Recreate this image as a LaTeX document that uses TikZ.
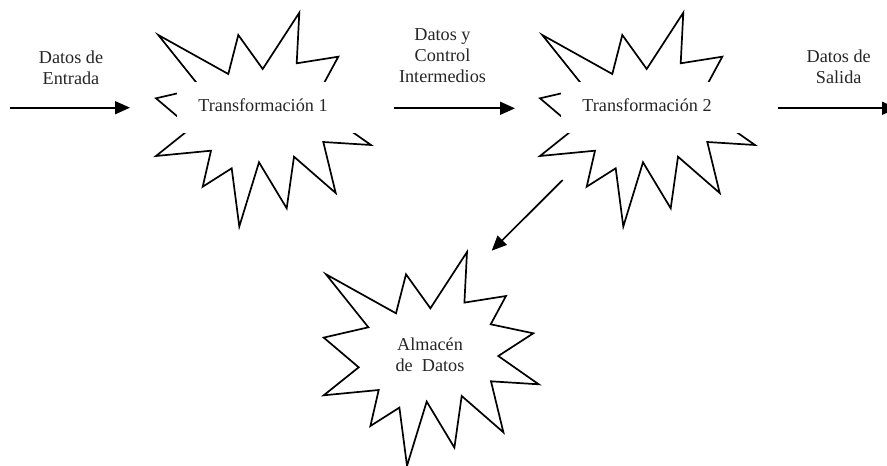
\documentclass[tikz,border=0pt]{standalone}
\usepackage{fontspec}
\setmainfont{Liberation Serif}
\usetikzlibrary{arrows.meta}
\newcommand\burstpath{%
  (158.3,35) -- (228.3,74) -- (238.3,35) -- (262.7,69) -- (299.3,12.7) --
  (296.7,63.3) -- (338.3,56.7) -- (323,85) -- (365.6,94) -- (330.6,116.7) --
  (371,145) -- (323.3,142) -- (335.7,193) -- (294,156.7) -- (286.7,208.3) --
  (259,162.3) -- (239.3,226.5) -- (231.7,168.3) -- (202.7,186.7) -- (211,150.7) --
  (156,156) -- (191,128) -- (156,98.3) -- (200.7,88) -- cycle}
\tikzset{
  burst/.style={draw=black, line width=1.7pt, line join=miter, fill=white},
  cover/.style={fill=white, draw=none},
  lbl/.style={font=\fontsize{18.2}{21}\selectfont, inner sep=0pt, align=center, anchor=north, text=black!85},
  arr/.style={-{Triangle[length=15pt,width=13pt]}, line width=1.7pt, draw=black},
}
\begin{document}
\begin{tikzpicture}[x=1pt,y=-1pt]
\path[use as bounding box, fill=white] (0,0) rectangle (887,466);
\clip (0,0) rectangle (887,466);

% starburst 1
\draw[burst] \burstpath;
\fill[cover] (177,82) rectangle (370,133.3);
\node[lbl, anchor=base] (t1) at (263,111) {Transformación 1};

% starburst 2
\begin{scope}[shift={(384,0)}]
\draw[burst] \burstpath;
\fill[cover] (177,82) rectangle (370,133.3);
\end{scope}
\node[lbl, anchor=base] (t2) at (647,111) {Transformación 2};

% starburst 3
\begin{scope}[shift={(167.7,239.3)}]
\draw[burst] \burstpath;
\end{scope}
\node[lbl] (t3) at (430,335.3) {\strut Almacén\\\strut de\ \ Datos};

% flow labels
\node[lbl] (l1) at (71,48.6) {\strut Datos de\\\strut Entrada};
\node[lbl] (l2) at (442.5,25.3) {\strut Datos y\\\strut Control\\\strut Intermedios};
\node[lbl] (l3) at (838.7,48) {\strut Datos de\\\strut Salida};

% arrows
\coordinate (a1s) at (10,107.7);
\coordinate (a1e) at (130,107.7);
\coordinate (a2s) at (394,108.3);
\coordinate (a2e) at (515,108.3);
\coordinate (a3s) at (778.3,108.3);
\coordinate (a3e) at (897,108.3);
\coordinate (a4s) at (562.7,180);
\coordinate (a4e) at (491.7,250.7);
\draw[arr] (a1s) -- (a1e);
\draw[arr] (a2s) -- (a2e);
\draw[arr] (a3s) -- (a3e);
\draw[arr] (a4s) -- (a4e);
\end{tikzpicture}
\end{document}
